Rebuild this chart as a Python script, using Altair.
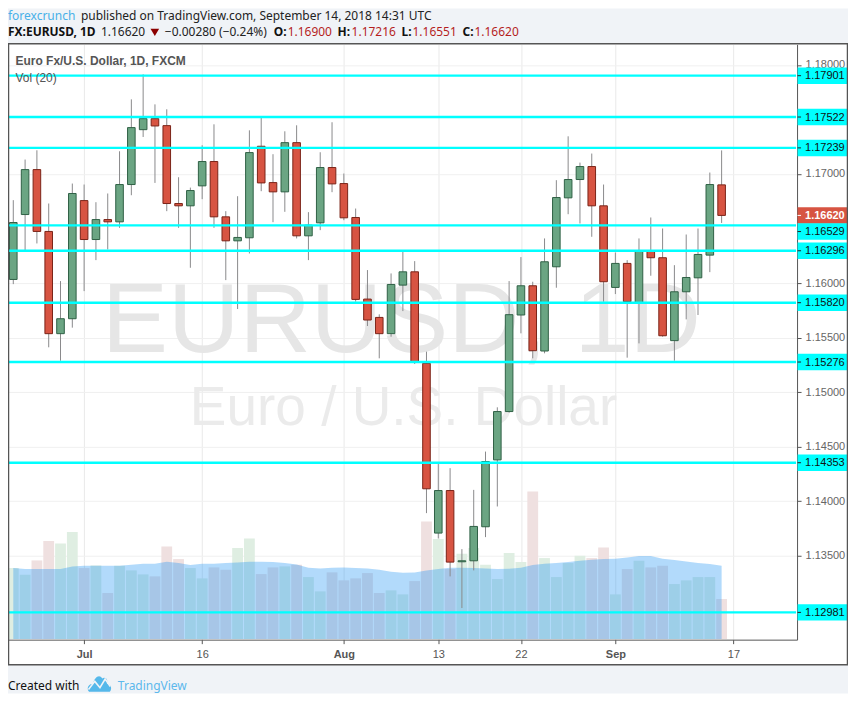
import altair as alt
import pandas as pd

# Daily EUR/USD candles
opens = [1.16033,1.16628,1.17040,1.16473,1.15536,1.15673,1.16756,1.16399,1.16582,1.16561,1.16903,1.17406,1.17507,1.17443,1.16729,1.16708,1.16891,1.17114,1.16607,1.16387,1.16415,1.17254,1.16921,1.16836,1.17287,1.16433,1.16552,1.17059,1.16912,1.16601,1.15853,1.15685,1.15536,1.15981,1.16103,1.15264,1.13708,1.14098,1.13445,1.13454,1.13766,1.14379,1.14822,1.15707,1.15975,1.15377,1.16149,1.16781,1.16949,1.17068,1.16708,1.15960,1.16180,1.15820,1.16296,1.16232,1.15472,1.15920,1.16048,1.16256,1.16900]
highs = [1.16760,1.17132,1.17217,1.16729,1.16018,1.16912,1.16903,1.16741,1.16821,1.17208,1.17684,1.17913,1.17638,1.17593,1.16970,1.16875,1.17263,1.17455,1.16659,1.16796,1.17400,1.17516,1.17181,1.17391,1.17446,1.16650,1.17199,1.17474,1.17004,1.16683,1.16119,1.15713,1.16088,1.16286,1.16201,1.15371,1.14349,1.14303,1.13561,1.14104,1.14455,1.14861,1.16018,1.16238,1.16012,1.16409,1.16943,1.17345,1.17104,1.17187,1.16903,1.16280,1.16210,1.16409,1.16601,1.16500,1.16164,1.16445,1.16500,1.17013,1.17216]
lows = [1.15990,1.16302,1.16363,1.15411,1.15288,1.15591,1.15926,1.16210,1.16308,1.16506,1.16805,1.17339,1.16918,1.16659,1.16506,1.16140,1.16769,1.16506,1.16027,1.15762,1.16271,1.16842,1.16558,1.16653,1.16409,1.16210,1.16485,1.16833,1.16576,1.15829,1.15606,1.15310,1.15508,1.15743,1.15258,1.13891,1.13659,1.13311,1.13021,1.13366,1.13671,1.13952,1.14812,1.15539,1.15310,1.15356,1.15957,1.16631,1.16546,1.16424,1.15829,1.15899,1.15316,1.15447,1.16067,1.15508,1.15288,1.15667,1.15707,1.16100,1.16551]
closes = [1.16555,1.17040,1.16473,1.15536,1.15673,1.16821,1.16399,1.16582,1.16561,1.16903,1.17425,1.17507,1.17440,1.16729,1.16708,1.16848,1.17114,1.16607,1.16387,1.16418,1.17196,1.16918,1.16836,1.17287,1.16433,1.16531,1.17059,1.16909,1.16598,1.15850,1.15661,1.15536,1.15987,1.16103,1.15273,1.14114,1.14098,1.13442,1.13454,1.13769,1.14364,1.14822,1.15710,1.15975,1.15380,1.16195,1.16784,1.16949,1.17068,1.16708,1.16012,1.16180,1.15829,1.16296,1.16232,1.15517,1.15920,1.16051,1.16262,1.16903,1.16620]
volumes = [213,193,236,294,287,321,213,221,138,220,206,194,188,278,240,213,182,215,208,273,302,195,215,218,223,186,143,200,176,182,198,138,146,134,174,353,300,210,256,273,223,180,258,231,443,243,186,228,250,243,275,134,210,235,215,220,165,176,186,186,120]
vol_ma = [213,210,210,210,210,218,220,220,220,220,223,226,226,232,228,222,226,226,228,230,232,232,231,228,224,214,212,214,215,213,212,208,202,199,200,206,210,214,214,213,212,210,211,214,222,226,228,231,235,238,240,241,245,249,249,241,237,233,228,225,220]

levels = [1.17901,1.17522,1.17239,1.16529,1.16296,1.15820,1.15276,1.14353,1.12981]
tag_levels = [1.17901,1.17522,1.17239,1.16472,1.16296,1.15820,1.15276,1.14353,1.12981]
last_price = [1.16620]
y_ticks = [1.18,1.17,1.16,1.155,1.15,1.145,1.14,1.135]
x_tick_idx = [6,16,28,36,43,51,61]
x_tick_text = ["Jul","16","Aug","13","22","Sep","17"]
x_bold = [6,28,51]

SANS = "Liberation Sans"
UI = "Noto Sans"
GRAY_BG = "#f0f3f7"

df = pd.DataFrame({
    "i": list(range(len(opens))), "open": opens, "high": highs, "low": lows, "close": closes,
    "vol": volumes, "ma": vol_ma,
})
df["dir"] = ["up" if c >= o else "down" for o, c in zip(opens, closes)]
df["top"] = df[["open", "close"]].max(axis=1)
df["bot"] = df[["open", "close"]].min(axis=1)

one = pd.DataFrame({"a": [0]})
xs = alt.Scale(domain=[-0.448, 66.39], nice=False, zero=False, padding=0)
ys = alt.Scale(domain=[1.12731, 1.18188], nice=False, zero=False)
vs = alt.Scale(domain=[-2, 1786], nice=False, zero=False)

X = alt.X("i:Q", scale=xs, axis=None)
label_expr = "{" + ",".join(f"'{k}':'{v}'" for k, v in zip(x_tick_idx, x_tick_text)) + "}[datum.value]"
bold_test = " || ".join(f"datum.value == {k}" for k in x_bold)
x_axis = alt.Axis(values=x_tick_idx, labelExpr=label_expr, title=None, grid=True, gridColor="#e9e9e9",
                  domainColor="#555", domainWidth=1, tickColor="#555", tickSize=4, labelPadding=5,
                  labelFont=SANS, labelFontSize=11, labelColor="#555",
                  labelFontWeight={"condition": {"test": bold_test, "value": "bold"}, "value": "normal"},
                  labelOverlap=False)
y_axis = alt.Axis(values=y_ticks, format=".5f", orient="right", title=None, grid=True, gridColor="#f0f0f0",
                  domainColor="#555", domainWidth=1, tickColor="#555", tickSize=4, labelPadding=4,
                  labelFont=SANS, labelFontSize=11, labelColor="#666", labelOverlap=False)


def px(x, y):
    return {"x": alt.value(x - 8), "y": alt.value(y - 44)}


def txt(s, x, y, color="#222", size=12, weight="normal", font=UI, align="left", **kw):
    return alt.Chart(one).mark_text(text=s, align=align, baseline="alphabetic", color=color, fontSize=size,
                                    fontWeight=weight, font=font, **kw).encode(**px(x, y))


def box(x0, y0, x1, y1, **kw):
    return alt.Chart(one).mark_rect(**kw).encode(x=alt.value(x0 - 8), x2=alt.value(x1 - 8),
                                                 y=alt.value(y0 - 44), y2=alt.value(y1 - 44))


# price-scale helpers
lev = pd.DataFrame({"p": levels, "tag": tag_levels})
LY = alt.Y("p:Q", scale=ys, axis=None)
TY = alt.Y("tag:Q", scale=ys, axis=None)
last = pd.DataFrame({"p": last_price})

# volume pane
vol_bars = alt.Chart(df).mark_bar(size=10.8, orient="vertical").encode(
    x=X, y=alt.Y("vol:Q", scale=vs, axis=None),
    color=alt.Color("dir:N", scale=alt.Scale(domain=["up", "down"], range=["#dfeee2", "#efe0e0"]), legend=None))
vol_area = alt.Chart(df).mark_area(color="#2196f3", opacity=0.35, interpolate="linear").encode(
    x=X, y=alt.Y("ma:Q", scale=vs, axis=None))

# candles
wicks = alt.Chart(df).mark_rule(color="#8a8a8c", strokeWidth=1).encode(
    x=alt.X("i:Q", scale=xs, axis=x_axis),
    y=alt.Y("low:Q", scale=ys, axis=y_axis), y2="high:Q")
bodies = alt.Chart(df).mark_bar(size=7.6, orient="vertical", strokeWidth=1).encode(
    x=X, y=alt.Y("bot:Q", scale=ys, axis=None), y2="top:Q",
    color=alt.Color("dir:N", scale=alt.Scale(domain=["up", "down"], range=["#6ba583", "#d75442"]), legend=None),
    stroke=alt.Stroke("dir:N", scale=alt.Scale(domain=["up", "down"], range=["#2f6045", "#7a2418"]), legend=None))

# horizontal levels and their price tags
hlines = alt.Chart(lev).mark_rule(color="#00ffff", strokeWidth=2.4).encode(
    x=alt.value(0), x2=alt.value(789), y=LY)
tags = alt.Chart(lev).mark_rule(color="#00ffff", strokeWidth=16.5).encode(
    x=alt.value(790.5), x2=alt.value(840), y=TY)
tag_ticks = alt.Chart(lev).mark_rule(color="#222", strokeWidth=1).encode(
    x=alt.value(790.5), x2=alt.value(794), y=TY)
tag_text = alt.Chart(lev).mark_text(align="left", baseline="middle", font=SANS, fontSize=11, color="#111", dy=0.5).encode(
    x=alt.value(798), y=TY, text=alt.Text("p:Q", format=".5f"))
last_tag = alt.Chart(last).mark_rule(color="#d75442", strokeWidth=16.5).encode(
    x=alt.value(790.5), x2=alt.value(840), y=LY)
last_tick = alt.Chart(last).mark_rule(color="#fff", strokeWidth=1).encode(
    x=alt.value(790.5), x2=alt.value(794), y=LY)
last_text = alt.Chart(last).mark_text(align="left", baseline="middle", font=SANS, fontSize=11, fontWeight="bold",
                                      color="#fff", dy=0.5).encode(
    x=alt.value(798), y=LY, text=alt.Text("p:Q", format=".5f"))

# watermarks
wm1 = txt("EURUSD, 1D", 402, 352, color="#e6e6e6", size=99, font=SANS, align="center")
wm2 = txt("Euro / U.S. Dollar", 404, 425, color="#ebebeb", size=55, font=SANS, align="center")

# surroundings
top_strip = box(8, 8, 849, 43, color=GRAY_BG)
bot_strip = box(8, 665, 849, 694, color=GRAY_BG)
frame = box(8.5, 43.5, 848.5, 665, fillOpacity=0, stroke="#555", strokeWidth=1.5)

RED = "#b51e1e"
logo_cloud = ("M-0.9,0.75 C-1.15,0.45 -0.95,0.05 -0.55,0.05 C-0.45,-0.5 0,-0.85 0.25,-0.4 "
              "C0.5,-0.6 0.8,-0.3 0.65,0.05 C1,0.05 1.15,0.5 0.9,0.75 Z")
logo_zig = "M-0.95,0.55 L-0.4,-0.15 L0.05,0.4 L0.5,-0.35 L0.95,0.3"

layers = [
    vol_bars, vol_area, wm1, wm2, wicks, bodies,
    hlines, last_tag, last_tick, last_text, tags, tag_ticks, tag_text,
    txt("Euro Fx/U.S. Dollar, 1D, FXCM", 15.5, 65, color="#555", size=12, weight="bold", font=SANS),
    txt("Vol (20)", 15.5, 82, color="#555", size=12, font=SANS),
    top_strip, bot_strip, frame,
    txt("forexcrunch", 8, 20, color="#48b0e8"),
    txt("published on TradingView.com, September 14, 2018 14:31 UTC", 81, 20, color="#222"),
    txt("FX:EURUSD, 1D", 8, 36, weight="bold", color="#111"),
    txt("1.16620", 101, 36),
    alt.Chart(one).mark_point(shape="triangle-down", filled=True, color="#8b0000", size=75, opacity=1).encode(**px(155, 32)),
    txt("\u22120.00280 (\u22120.24%)", 165, 36),
    txt("O:", 274, 36, weight="bold", color="#111"),
    txt("1.16900", 288, 36, color=RED),
    txt("H:", 338, 36, weight="bold", color="#111"),
    txt("1.17216", 352, 36, color=RED),
    txt("L:", 402, 36, weight="bold", color="#111"),
    txt("1.16551", 413, 36, color=RED),
    txt("C:", 463, 36, weight="bold", color="#111"),
    txt("1.16620", 475, 36, color=RED),
    txt("Created with", 8, 690, color="#111"),
    alt.Chart(one).mark_point(shape=logo_cloud, filled=True, color="#55b8ea", size=530, opacity=1).encode(**px(99.5, 683.5)),
    alt.Chart(one).mark_point(shape=logo_zig, filled=False, color=GRAY_BG, strokeWidth=1.6, size=530, opacity=1).encode(**px(99.5, 683.5)),
    txt("TradingView", 118, 690, color="#5cb8ec"),
]

chart = alt.layer(*layers).resolve_scale(y="independent", color="independent", stroke="independent").resolve_axis(x="independent").properties(
    width=790, height=596,
    autosize=alt.AutoSizeParams(type="none"),
    padding={"left": 0, "top": 36, "right": 51, "bottom": 54},
    background="#ffffff",
).configure_view(stroke=None)

chart.save("out.html", embed_options={"renderer": "svg", "actions": False})
